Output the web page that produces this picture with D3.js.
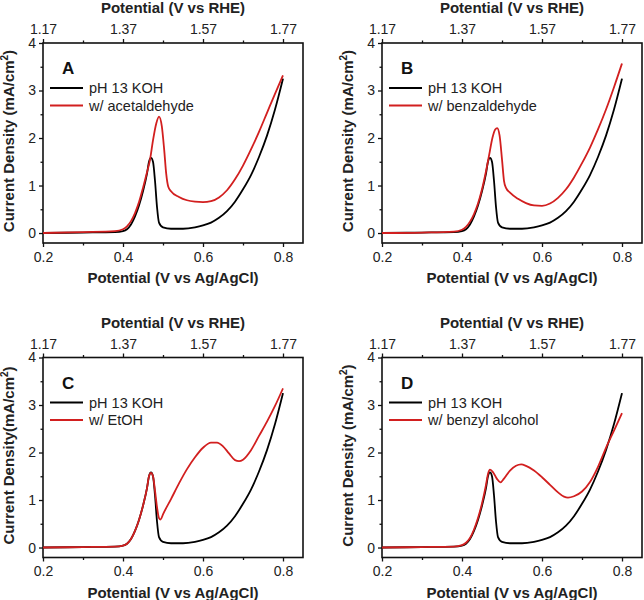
<!DOCTYPE html>
<html><head><meta charset="utf-8">
<script src="https://cdn.jsdelivr.net/npm/d3@7"></script>
<style>
html,body{margin:0;padding:0;background:#fff;}
svg{display:block;font-family:"Liberation Sans",Arial,Helvetica,sans-serif;}
</style></head>
<body>
<svg id="chart" width="644" height="600"></svg>
<script>
// ---- tick values ----
const xMajor = [0.2, 0.4, 0.6, 0.8];
const xMinor = [0.3, 0.5, 0.7];
const rheMajor = [1.17, 1.37, 1.57, 1.77];
const rheMinor = [1.27, 1.47, 1.67];
const yMajor = [0, 1, 2, 3, 4];
const yMinor = [0.5, 1.5, 2.5, 3.5];
const panelLetters = ["A", "B", "C", "D"];
const baseLabel = "pH 13 KOH";
const redLabels = ["w/ acetaldehyde", "w/ benzaldehyde", "w/ EtOH", "w/ benzyl alcohol"];

// ---- pH 13 KOH (black) ----
const kohV = [0.20,0.30,0.38,0.40,0.41,0.42,0.43,0.44,0.45,0.46,0.465,0.47,0.475,0.48,0.485,0.49,0.50,0.52,0.55,0.58,0.60,0.62,0.64,0.66,0.68,0.70,0.72,0.74,0.76,0.78,0.80];
const kohJ = [0.00,0.01,0.02,0.04,0.08,0.18,0.35,0.58,0.88,1.25,1.50,1.58,1.50,1.10,0.55,0.22,0.12,0.09,0.09,0.12,0.16,0.22,0.32,0.46,0.66,0.92,1.22,1.60,2.05,2.60,3.25];

// ---- A: acetaldehyde ----
const acetV = [0.20,0.30,0.38,0.40,0.41,0.42,0.43,0.44,0.45,0.46,0.467,0.475,0.483,0.49,0.497,0.503,0.508,0.513,0.52,0.54,0.56,0.58,0.60,0.62,0.64,0.66,0.68,0.70,0.72,0.74,0.76,0.78,0.80];
const acetJ = [0.00,0.02,0.04,0.08,0.14,0.25,0.42,0.65,0.95,1.28,1.52,1.95,2.30,2.45,2.25,1.75,1.25,0.98,0.88,0.76,0.69,0.66,0.65,0.67,0.75,0.90,1.13,1.42,1.76,2.13,2.53,2.93,3.32];

// ---- B: benzaldehyde ----
const benzV = [0.20,0.30,0.38,0.40,0.41,0.42,0.43,0.44,0.45,0.46,0.468,0.476,0.483,0.488,0.494,0.50,0.505,0.51,0.52,0.54,0.56,0.58,0.60,0.62,0.64,0.66,0.68,0.70,0.72,0.74,0.76,0.78,0.80];
const benzJ = [0.00,0.01,0.03,0.07,0.13,0.24,0.40,0.62,0.92,1.30,1.65,2.00,2.18,2.21,2.05,1.55,1.10,0.95,0.85,0.72,0.63,0.58,0.57,0.62,0.74,0.92,1.17,1.47,1.80,2.18,2.60,3.07,3.57];

// ---- C: EtOH ----
const etohV = [0.20,0.30,0.38,0.40,0.41,0.42,0.43,0.44,0.45,0.46,0.465,0.47,0.475,0.48,0.485,0.49,0.494,0.50,0.52,0.54,0.56,0.58,0.60,0.62,0.635,0.65,0.665,0.68,0.69,0.70,0.72,0.74,0.76,0.78,0.80];
const etohJ = [0.00,0.01,0.02,0.04,0.08,0.18,0.35,0.58,0.88,1.25,1.50,1.57,1.50,1.20,0.85,0.62,0.59,0.70,1.02,1.35,1.65,1.90,2.10,2.21,2.21,2.13,1.98,1.84,1.82,1.85,2.05,2.35,2.65,2.98,3.35];

// ---- D: benzyl alcohol ----
const bzohV = [0.20,0.30,0.38,0.40,0.41,0.42,0.43,0.44,0.45,0.46,0.465,0.47,0.478,0.487,0.496,0.505,0.52,0.535,0.548,0.56,0.58,0.60,0.62,0.64,0.655,0.665,0.68,0.70,0.72,0.74,0.76,0.78,0.80];
const bzohJ = [0.00,0.01,0.02,0.05,0.10,0.20,0.38,0.62,0.93,1.32,1.55,1.64,1.58,1.45,1.37,1.45,1.62,1.72,1.75,1.72,1.62,1.48,1.32,1.16,1.07,1.05,1.08,1.18,1.38,1.70,2.10,2.46,2.83];

const redV = [acetV, benzV, etohV, bzohV];
const redJ = [acetJ, benzJ, etohJ, bzohJ];
const yTitles = ["Current Density (mA/cm", "Current Density (mA/cm", "Current Density(mA/cm", "Current Density (mA/cm"];

const RED = "#d21f1f";
const svg = d3.select("#chart");
const W = 260, H = 200;
const lefts = [43, 382, 43, 382];
const tops = [43, 43, 357.5, 357.5];

function pts(V, J) { return V.map((v, i) => [v, J[i]]); }

panelLetters.forEach((letter, p) => {
  const g = svg.append("g").attr("transform", `translate(${lefts[p]},${tops[p]})`);
  const x = d3.scaleLinear().domain([0.2, 0.85]).range([0, W]);
  const rhe = d3.scaleLinear().domain([1.17, 1.82]).range([0, W]);
  const y = d3.scaleLinear().domain([-0.21, 4]).range([H, 0]);

  const styleAxis = sel => {
    sel.select(".domain").remove();
    sel.selectAll("line").attr("stroke", "#111").attr("stroke-width", 1.3);
    sel.selectAll("text").attr("font-size", 14).attr("fill", "#222");
  };

  g.append("g").attr("transform", `translate(0,${H})`)
    .call(d3.axisBottom(x).tickValues(xMajor).tickSize(4).tickPadding(5).tickFormat(d3.format(".1f"))).call(styleAxis);
  g.append("g").attr("transform", `translate(0,${H})`)
    .call(d3.axisBottom(x).tickValues(xMinor).tickSize(2.5).tickFormat("")).call(styleAxis);
  g.append("g")
    .call(d3.axisTop(rhe).tickValues(rheMajor).tickSize(4).tickPadding(5).tickFormat(d3.format(".2f"))).call(styleAxis);
  g.append("g")
    .call(d3.axisTop(rhe).tickValues(rheMinor).tickSize(2.5).tickFormat("")).call(styleAxis);
  g.append("g")
    .call(d3.axisLeft(y).tickValues(yMajor).tickSize(4).tickPadding(3).tickFormat(d3.format("d"))).call(styleAxis);
  g.append("g")
    .call(d3.axisLeft(y).tickValues(yMinor).tickSize(2.5).tickFormat("")).call(styleAxis);

  // frame
  g.append("rect").attr("x", 0).attr("y", 0).attr("width", W).attr("height", H)
    .attr("fill", "none").attr("stroke", "#111").attr("stroke-width", 1.6);

  const line = d3.line().x(d => x(d[0])).y(d => y(d[1])).curve(d3.curveMonotoneX);
  g.append("path").datum(pts(kohV, kohJ)).attr("d", line)
    .attr("fill", "none").attr("stroke", "#000").attr("stroke-width", 1.8);
  g.append("path").datum(pts(redV[p], redJ[p])).attr("d", line)
    .attr("fill", "none").attr("stroke", RED).attr("stroke-width", 1.8);

  // titles
  g.append("text").attr("x", W / 2).attr("y", -30).attr("text-anchor", "middle")
    .attr("font-size", 15).attr("font-weight", "bold").attr("fill", "#222").text("Potential (V vs RHE)");
  g.append("text").attr("x", W / 2).attr("y", H + 40).attr("text-anchor", "middle")
    .attr("font-size", 15).attr("font-weight", "bold").attr("fill", "#222").text("Potential (V vs Ag/AgCl)");
  const yt = g.append("text").attr("transform", `translate(-34,${H / 2 - 2}) rotate(-90)`)
    .attr("text-anchor", "middle").attr("dy", "0.35em")
    .attr("font-size", 15).attr("font-weight", "bold").attr("fill", "#222");
  yt.append("tspan").text(yTitles[p]);
  yt.append("tspan").attr("font-size", 10).attr("dy", -6).text("2");
  yt.append("tspan").attr("dy", 6).text(")");

  // panel letter
  g.append("text").attr("x", 19).attr("y", 31).attr("font-size", 17).attr("font-weight", "bold")
    .attr("fill", "#111").text(letter);

  // legend
  const leg = [[baseLabel, "#000"], [redLabels[p], RED]];
  leg.forEach((d, i) => {
    const ly = 45 + i * 17.5;
    g.append("line").attr("x1", 7).attr("x2", 40).attr("y1", ly).attr("y2", ly)
      .attr("stroke", d[1]).attr("stroke-width", 1.8);
    g.append("text").attr("x", 46).attr("y", ly + 5).attr("font-size", 14.5).attr("fill", "#222").text(d[0]);
  });
});
</script>
</body></html>
